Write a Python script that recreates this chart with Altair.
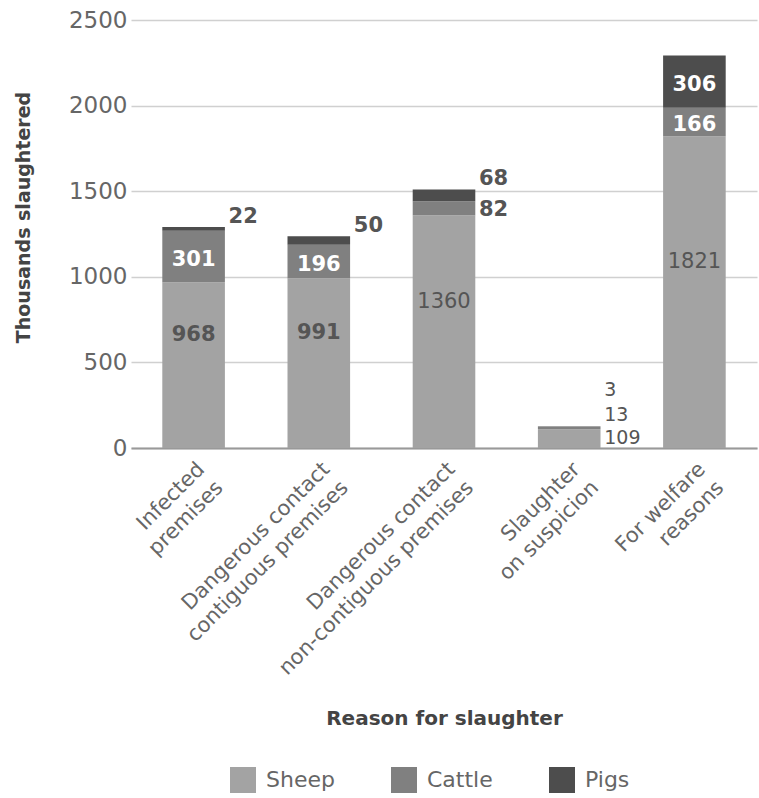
import altair as alt
import pandas as pd

reasons = ["Infected|premises", "Dangerous contact|contiguous premises",
           "Dangerous contact|non-contiguous premises", "Slaughter|on suspicion",
           "For welfare|reasons"]
animals = ["Sheep", "Cattle", "Pigs"]
sheep = [968, 991, 1360, 109, 1821]
cattle = [301, 196, 82, 13, 166]
pigs = [22, 50, 68, 3, 306]
colors = ["#a3a3a3", "#808080", "#4d4d4d"]

rows = []
for i, r in enumerate(reasons):
    base = 0
    for a, vals in zip(animals, [sheep, cattle, pigs]):
        v = vals[i]
        rows.append({"reason": r, "animal": a, "value": v, "y0": base,
                     "y1": base + v, "mid": base + v / 2})
        base += v
df = pd.DataFrame(rows)

FONT = "DejaVu Sans"
xenc = alt.X("reason:N", sort=reasons,
             scale=alt.Scale(paddingInner=0.5, paddingOuter=0.25),
             axis=alt.Axis(title="Reason for slaughter", labelAngle=-45,
                           labelAlign="right", labelBaseline="top",
                           labelExpr="split(datum.label, '|')",
                           labelFontSize=21, labelColor="#666", labelFont=FONT,
                           labelLineHeight=26, labelPadding=10, labelLimit=500,
                           ticks=False, domainColor="#999", domainWidth=2,
                           titleFont=FONT, titleFontSize=20, titleFontWeight="bold",
                           titleColor="#444", titleY=270, titleBaseline="middle"))
yscale = alt.Scale(domain=[0, 2500])

base = alt.Chart(df)
bars = base.mark_bar().encode(
    x=xenc,
    y=alt.Y("y0:Q", scale=yscale,
            axis=alt.Axis(title="Thousands slaughtered", values=[0, 500, 1000, 1500, 2000, 2500],
                          format="d",
                          domain=False, ticks=False, labelPadding=4,
                          labelFontSize=23, labelColor="#666", labelFont=FONT,
                          gridColor="#d0d0d0", gridWidth=1.5,
                          titleFont=FONT, titleFontSize=19, titleFontWeight="bold",
                          titleColor="#444", titleX=-108, titleY=197,
                          titleAlign="center", titleBaseline="middle")),
    y2="y1:Q",
    color=alt.Color("animal:N", scale=alt.Scale(domain=animals, range=colors),
                    sort=animals,
                    legend=alt.Legend(title=None, orient="none", legendX=99, legendY=747,
                                      direction="horizontal", symbolType="square",
                                      symbolSize=676, symbolStrokeWidth=0,
                                      labelFontSize=22, labelColor="#666", labelFont=FONT,
                                      labelOffset=10, columnPadding=56)),
)

def txt(filt, yfield, dy, color, align="center", dx=0, weight="bold", size=21):
    return base.transform_filter(filt).mark_text(
        font=FONT, fontSize=size, fontWeight=weight, dy=dy, dx=dx,
        align=align, baseline="middle", color=color
    ).encode(x=alt.X("reason:N", sort=reasons), y=alt.Y(f"{yfield}:Q", scale=yscale),
             text="value:Q")

susp = reasons[3]
layers = [
    bars,
    txt("datum.value >= 150 && datum.value < 1000 && datum.animal == 'Sheep'", "mid", -30, "#555"),
    txt("datum.value >= 1000 && datum.animal == 'Sheep'", "mid", -30, "#555", weight="normal"),
    txt("datum.value >= 150 && datum.animal != 'Sheep'", "mid", 3, "white"),
    txt(f"datum.value < 150 && datum.animal == 'Pigs' && datum.reason != '{susp}'", "y1", -10, "#555", "left", 35),
    txt(f"datum.value < 150 && datum.animal == 'Cattle' && datum.reason != '{susp}'", "mid", 2, "#555", "left", 35),
    txt(f"datum.animal == 'Sheep' && datum.reason == '{susp}'", "mid", -1, "#555", "left", 35, "normal", 19),
    txt(f"datum.animal == 'Cattle' && datum.reason == '{susp}'", "mid", -13, "#555", "left", 35, "normal", 19),
    txt(f"datum.animal == 'Pigs' && datum.reason == '{susp}'", "mid", -37, "#555", "left", 35, "normal", 19),
]

chart = alt.layer(*layers).properties(
    width=626, height=428,
    autosize=alt.AutoSizeParams(type="none"),
    padding={"left": 131, "top": 20, "right": 2, "bottom": 350},
).configure_view(stroke=None)

chart.save("out.html", embed_options={"renderer": "svg", "actions": False})
